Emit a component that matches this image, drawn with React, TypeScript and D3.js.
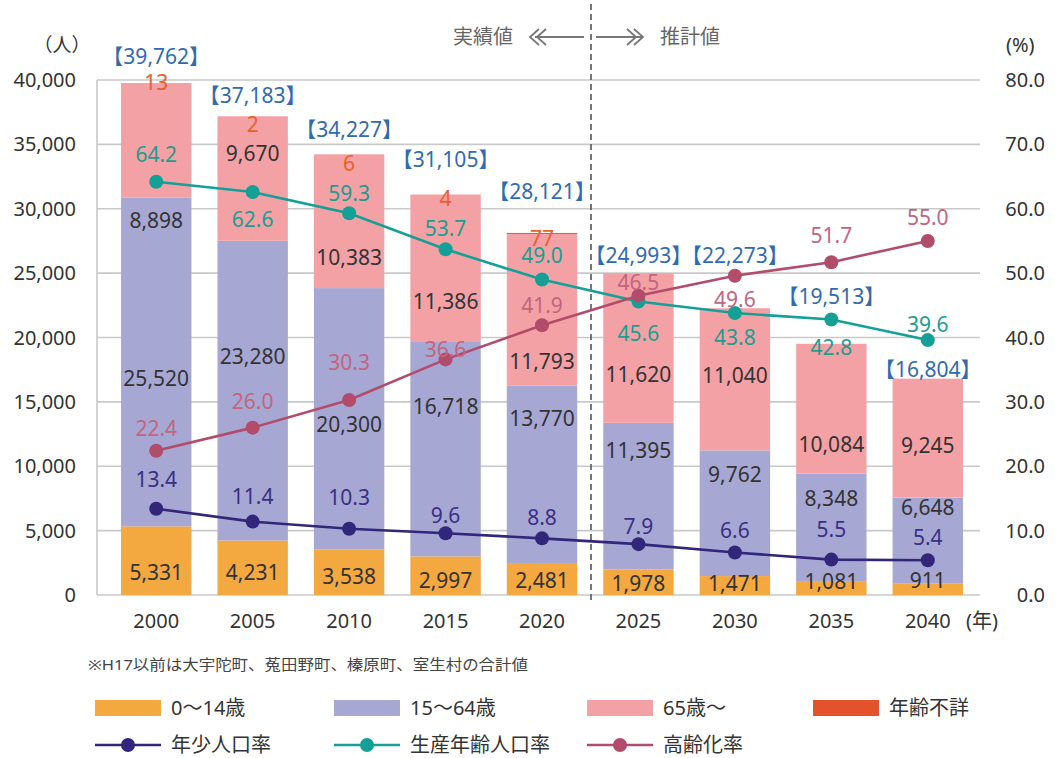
import React from 'react';
import * as d3 from 'd3';

// ---- data ----
const years = ['2000', '2005', '2010', '2015', '2020', '2025', '2030', '2035', '2040'];
const pop0to14 = [5331, 4231, 3538, 2997, 2481, 1978, 1471, 1081, 911];
const pop15to64 = [25520, 23280, 20300, 16718, 13770, 11395, 9762, 8348, 6648];
const pop65plus = [8898, 9670, 10383, 11386, 11793, 11620, 11040, 10084, 9245];
const popUnknown = [13, 2, 6, 4, 77, 0, 0, 0, 0];
const popTotal = [39762, 37183, 34227, 31105, 28121, 24993, 22273, 19513, 16804];
const rateYoung = [13.4, 11.4, 10.3, 9.6, 8.8, 7.9, 6.6, 5.5, 5.4];
const rateWorking = [64.2, 62.6, 59.3, 53.7, 49.0, 45.6, 43.8, 42.8, 39.6];
const rateElderly = [22.4, 26.0, 30.3, 36.6, 41.9, 46.5, 49.6, 51.7, 55.0];
const leftTicks = [0, 5000, 10000, 15000, 20000, 25000, 30000, 35000, 40000];
const rightTicks = [0, 10, 20, 30, 40, 50, 60, 70, 80];

// ---- label placement tweaks (pixels, relative to computed anchors) ----
const NUDGE = {
  young: [12, 5, 4, 5, 2, 1, -2, -6, -8],
  working: [17, -34, 6, -42, -56, -46, -39, -29, -33],
  elderly: [80, -25, 36, 34, 52, 27, -4, 36, 7],
  total: [-26, -21, -25, -35, -41, -18, -53, -47, -9],
  unknown: [0, 8, 9, 4, 6, 0, 0, 0, 0],
  rYoung: [-29, -25, -31, -18, -21, -17, -22, -30, -23],
  rWorking: [-27, 28, -20, -21, -24, 32, 25, 28, -15],
  rElderly: [-22, -26, -37, -10, -20, -13, 24, -27, -23],
};

const C = {
  young: '#F4A840',
  working: '#A7A7D3',
  elderly: '#F4A1A6',
  unknown: '#E4522B',
  lYoung: '#32267A',
  lWorking: '#14A096',
  lElderly: '#B24C6B',
  tYoung: '#3A2F86',
  tWorking: '#1C9D90',
  tElderly: '#C2657F',
  tTotal: '#2F6BB0',
  tUnknown: '#E8602C',
  grid: '#C9C9C9',
  text: '#333333',
};
const FONT = "'Noto Sans', 'Noto Sans CJK JP', sans-serif";
const fmt = d3.format(',');

export default function App() {
  const x = d3.scaleBand<string>().domain(years).range([108, 976]).paddingInner(0.27).paddingOuter(0.135);
  const yL = d3.scaleLinear().domain([0, 40000]).range([595, 80]);
  const yR = d3.scaleLinear().domain([0, 80]).range([595, 80]);
  const cx = (i: number) => (x(years[i]) as number) + x.bandwidth() / 2;

  const rows = years.map((y, i) => ({
    year: y,
    young: pop0to14[i],
    working: pop15to64[i],
    elderly: pop65plus[i],
    unknown: popUnknown[i],
  }));
  const keys = ['young', 'working', 'elderly', 'unknown'];
  const stack = d3.stack<any>().keys(keys)(rows);
  const fills: Record<string, string> = { young: C.young, working: C.working, elderly: C.elderly, unknown: C.unknown };

  const line = d3.line<number>().x((_, i) => cx(i)).y((d) => yR(d));
  const series = [
    { vals: rateYoung, color: C.lYoung, tcolor: C.tYoung, nudge: NUDGE.rYoung },
    { vals: rateWorking, color: C.lWorking, tcolor: C.tWorking, nudge: NUDGE.rWorking },
    { vals: rateElderly, color: C.lElderly, tcolor: C.tElderly, nudge: NUDGE.rElderly },
  ];

  const segLabels: { key: string; vals: number[]; nudge: number[] }[] = [
    { key: 'young', vals: pop0to14, nudge: NUDGE.young },
    { key: 'working', vals: pop15to64, nudge: NUDGE.working },
    { key: 'elderly', vals: pop65plus, nudge: NUDGE.elderly },
  ];

  const legendBoxes = [
    { x: 95, label: '0～14歳', color: C.young },
    { x: 334, label: '15～64歳', color: C.working },
    { x: 587, label: '65歳～', color: C.elderly },
    { x: 813, label: '年齢不詳', color: C.unknown },
  ];
  const legendLines = [
    { x: 95, label: '年少人口率', color: C.lYoung },
    { x: 334, label: '生産年齢人口率', color: C.lWorking },
    { x: 587, label: '高齢化率', color: C.lElderly },
  ];

  return (
    <svg width={1062} height={758} style={{ position: 'absolute', left: 0, top: 0, background: '#fff' }} fontFamily={FONT}>
      <rect x={0} y={0} width={1062} height={758} fill="#fff" />
      {/* gridlines */}
      {leftTicks.map((t) => (
        <line key={t} x1={97} x2={980} y1={yL(t)} y2={yL(t)} stroke={C.grid} strokeWidth={1.6} />
      ))}
      <line x1={97} x2={97} y1={yL(40000)} y2={yL(0)} stroke={C.grid} strokeWidth={1.6} />

      {/* bars */}
      {stack.map((layer) => (
        <g key={layer.key} fill={fills[layer.key]}>
          {layer.map((d, i) => (
            d[1] - d[0] > 0 ? (
              <rect key={i} x={x(years[i])} width={x.bandwidth()} y={yL(d[1])} height={yL(d[0]) - yL(d[1])} />
            ) : null
          ))}
        </g>
      ))}

      {/* divider */}
      <line x1={591} x2={591} y1={4} y2={602} stroke="#555" strokeWidth={1.6} strokeDasharray="6,4" />

      {/* lines */}
      {series.map((s, k) => (
        <g key={k}>
          <path d={line(s.vals) as string} fill="none" stroke={s.color} strokeWidth={2.6} />
          {s.vals.map((v, i) => (
            <circle key={i} cx={cx(i)} cy={yR(v)} r={7} fill={s.color} />
          ))}
        </g>
      ))}

      {/* segment labels */}
      {segLabels.map((sl) => {
        const layer = stack.find((l) => l.key === sl.key)!;
        return layer.map((d, i) => (
          <text key={sl.key + i} x={cx(i)} y={(yL(d[0]) + yL(d[1])) / 2 + sl.nudge[i]} dy="0.35em" textAnchor="middle" fontSize={21} fill={C.text}>
            {fmt(sl.vals[i])}
          </text>
        ));
      })}

      {/* rate labels */}
      {series.map((s, k) => s.vals.map((v, i) => (
        <text key={'r' + k + i} x={cx(i)} y={yR(v) + s.nudge[i]} dy="0.35em" textAnchor="middle" fontSize={21} fill={s.tcolor}>
          {v.toFixed(1)}
        </text>
      )))}

      {/* unknown labels */}
      {popUnknown.map((v, i) => v > 0 ? (
        <text key={'u' + i} x={cx(i)} y={yL(popTotal[i]) + NUDGE.unknown[i]} dy="0.35em" textAnchor="middle" fontSize={21} fill={C.tUnknown}>
          {v}
        </text>
      ) : null)}

      {/* totals */}
      {popTotal.map((v, i) => (
        <text key={'t' + i} x={cx(i)} y={yL(v) + NUDGE.total[i]} dy="0.35em" textAnchor="middle" fontSize={21} fill={C.tTotal}>
          {'【' + fmt(v) + '】'}
        </text>
      ))}

      {/* left axis */}
      {leftTicks.map((t) => (
        <text key={'l' + t} x={76} y={yL(t)} dy="0.35em" textAnchor="end" fontSize={20} fill={C.text}>{fmt(t)}</text>
      ))}
      {/* right axis */}
      {rightTicks.map((t) => (
        <text key={'rt' + t} x={1045} y={yR(t)} dy="0.35em" textAnchor="end" fontSize={20} fill={C.text}>{t.toFixed(1)}</text>
      ))}
      {/* x axis */}
      {years.map((yr, i) => (
        <text key={'x' + yr} x={cx(i)} y={621} dy="0.35em" textAnchor="middle" fontSize={20} fill={C.text}>{yr}</text>
      ))}
      <text x={966} y={621} dy="0.35em" fontSize={20} fill={C.text}>(年)</text>
      <text x={62} y={45} dy="0.35em" textAnchor="middle" fontSize={19} fill={C.text}>（人）</text>
      <text x={1006} y={45} dy="0.35em" fontSize={20} fill={C.text}>(%)</text>

      {/* header */}
      <text x={513} y={37} dy="0.35em" textAnchor="end" fontSize={20} fill="#666">実績値</text>
      <text x={660} y={37} dy="0.35em" fontSize={20} fill="#666">推計値</text>
      <g stroke="#777" strokeWidth={1.8} fill="none">
        <line x1={535} x2={584} y1={37} y2={37} />
        <path d="M539,29 L530,37 L539,45 M546,29 L537,37 L546,45" />
        <line x1={596} x2={642} y1={37} y2={37} />
        <path d="M634,29 L643,37 L634,45 M627,29 L636,37 L627,45" />
      </g>

      {/* note */}
      <text x={88} y={665} dy="0.35em" fontSize={15} fill="#444" textLength={440} lengthAdjust="spacingAndGlyphs">※H17以前は大宇陀町、菟田野町、榛原町、室生村の合計値</text>

      {/* legend */}
      {legendBoxes.map((b) => (
        <g key={b.label}>
          <rect x={b.x} y={700} width={66} height={16} fill={b.color} />
          <text x={b.x + 76} y={708} dy="0.35em" fontSize={20} fill={C.text}>{b.label}</text>
        </g>
      ))}
      {legendLines.map((b) => (
        <g key={b.label}>
          <line x1={b.x} x2={b.x + 66} y1={745} y2={745} stroke={b.color} strokeWidth={2.6} />
          <circle cx={b.x + 33} cy={745} r={7} fill={b.color} />
          <text x={b.x + 76} y={745} dy="0.35em" fontSize={20} fill={C.text}>{b.label}</text>
        </g>
      ))}
    </svg>
  );
}
